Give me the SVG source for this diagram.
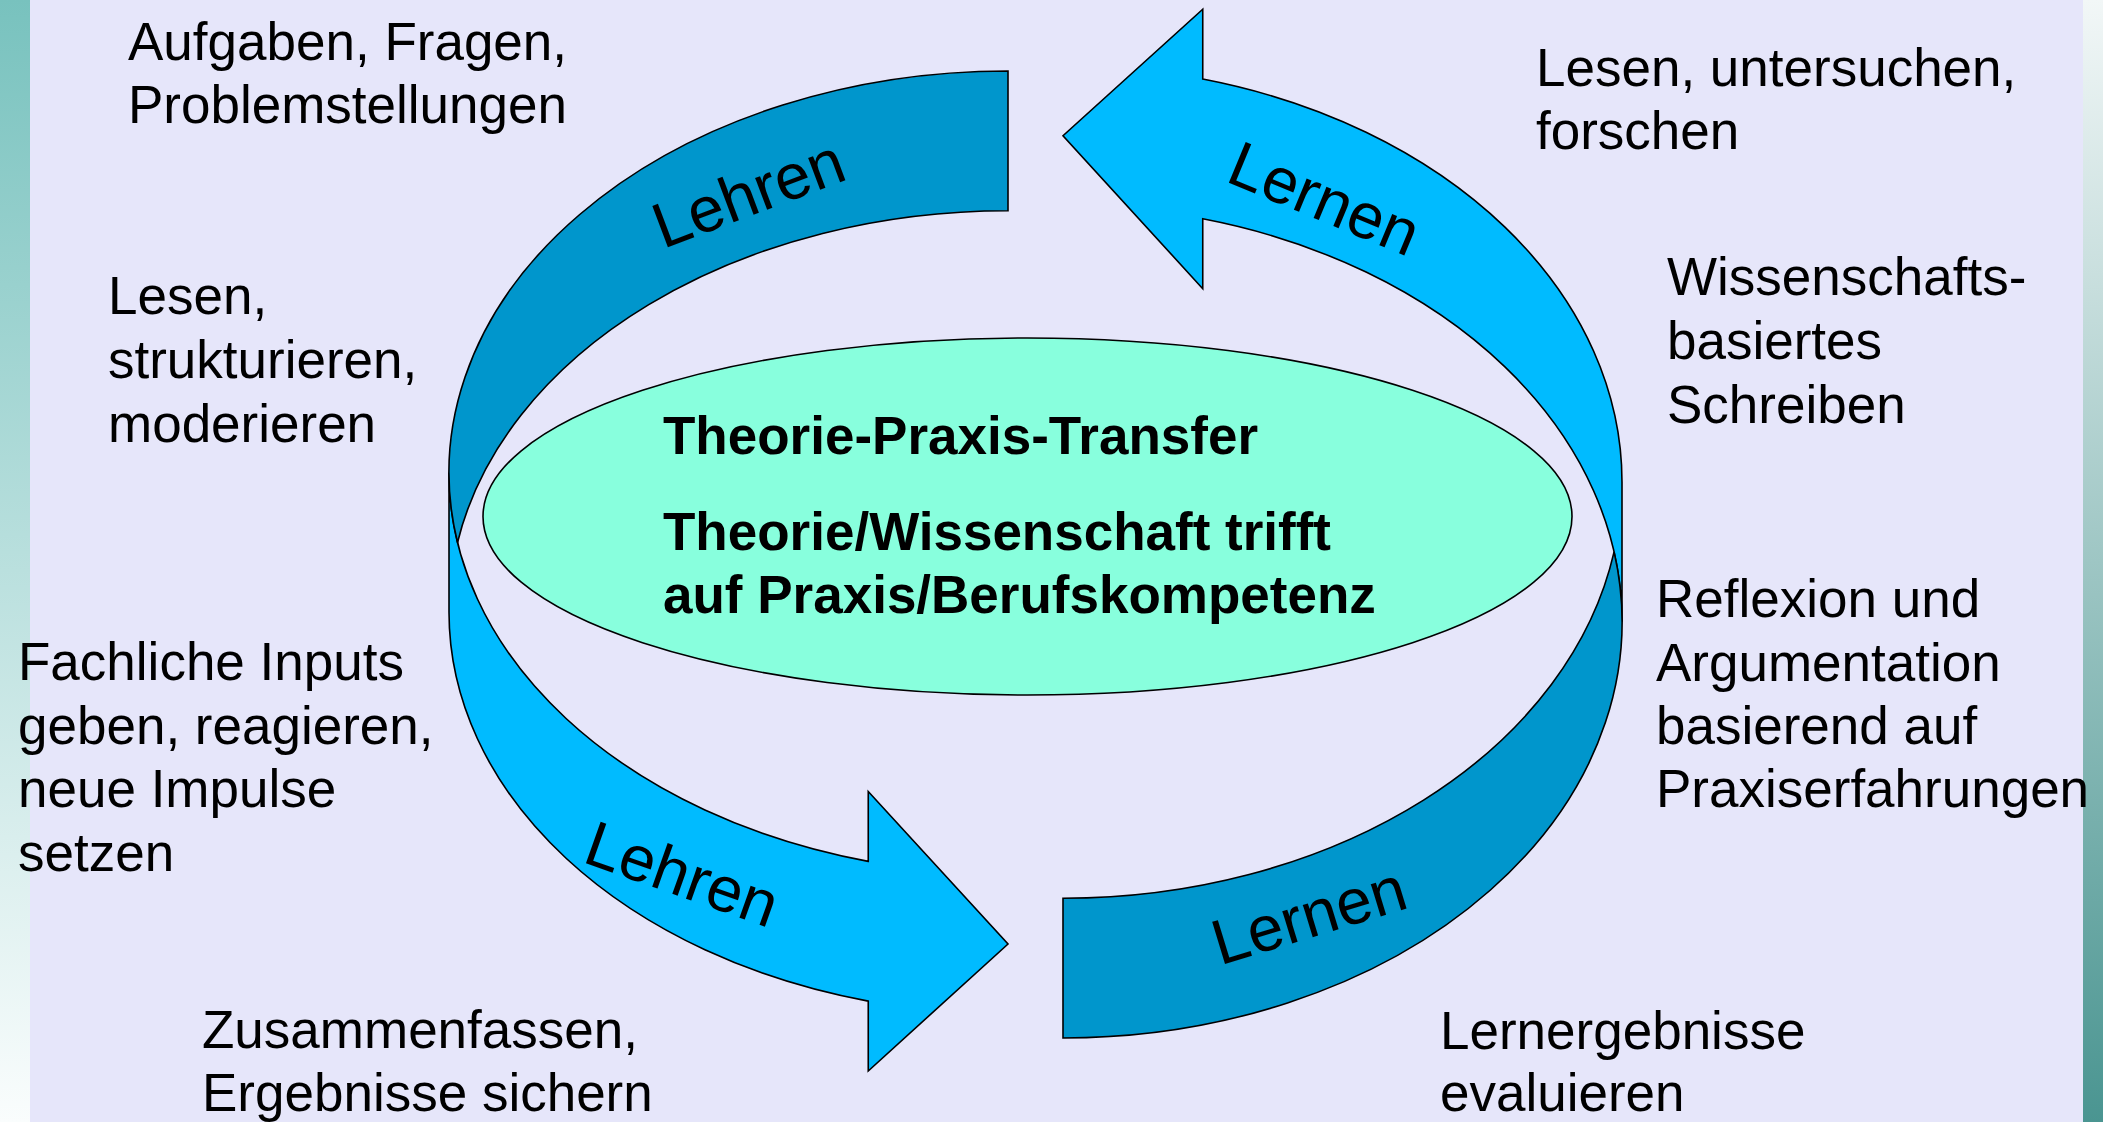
<svg xmlns="http://www.w3.org/2000/svg" width="2103" height="1122" viewBox="0 0 2103 1122">
<defs>
<linearGradient id="gl" x1="0" y1="0" x2="0" y2="1">
<stop offset="0" stop-color="#78C2BE"/>
<stop offset="1" stop-color="#FAFDFD"/>
</linearGradient>
<linearGradient id="gr" x1="0" y1="0" x2="0" y2="1">
<stop offset="0" stop-color="#F2F7F7"/>
<stop offset="1" stop-color="#4A9591"/>
</linearGradient>
<style>
.lbl{font-family:"Liberation Sans",Arial,sans-serif;font-size:53px;fill:#000}
.bold{font-family:"Liberation Sans",Arial,sans-serif;font-size:53px;font-weight:bold;fill:#000}
.arr{font-family:"Liberation Sans",Arial,sans-serif;font-size:64px;fill:#000}
.light{fill:#00BBFF;stroke:#000;stroke-width:1.6;stroke-linejoin:miter}
.dark{fill:#0096CC;stroke:#000;stroke-width:1.6;stroke-linejoin:miter}
</style>
</defs>
<g id="background">
<rect x="0" y="0" width="2103" height="1122" fill="#E6E6FA"/>
<rect x="0" y="0" width="30" height="1122" fill="url(#gl)"/>
<rect x="2083" y="0" width="20" height="1122" fill="url(#gr)"/>
</g>
<g id="node-center">
<ellipse cx="1027.5" cy="516.5" rx="544.5" ry="178.5" fill="#88FFDD" stroke="#000" stroke-width="1.6"/>
<text class="bold" x="663" y="454">Theorie-Praxis-Transfer</text>
<text class="bold" x="663" y="550">Theorie/Wissenschaft trifft</text>
<text class="bold" x="663" y="613">auf Praxis/Berufskompetenz</text>
</g>
<g id="connectors">
<g id="arrow-lehren">
<path class="light" d="M449,472.56 A559,401.56 0 0 0 868.25,861.37 L868.25,791.5 L1008,944 L868.25,1070.99 L868.25,1001.12 A559,401.56 0 0 1 449,612.31 Z"/>
<path class="dark" d="M1008,210.75 A559,401.56 0 0 0 457.53,542.44 A559,401.56 0 0 1 1008,71 Z"/>
<text class="arr" transform="translate(663,249) rotate(-20.7)">Lehren</text>
<text class="arr" transform="translate(581,861.6) rotate(19.5)">Lehren</text>
</g>
<g id="arrow-lernen">
<path class="light" d="M1622,621.81 A559,416.19 0 0 0 1202.75,218.83 L1202.75,288.7 L1063,135.75 L1202.75,9.2 L1202.75,79.08 A559,416.19 0 0 1 1622,482.06 Z"/>
<path class="dark" d="M1063,898.25 A559,416.19 0 0 0 1614.07,551.93 A559,416.19 0 0 1 1063,1038 Z"/>
<text class="arr" transform="translate(1224,180.8) rotate(22.5)">Lernen</text>
<text class="arr" transform="translate(1220,965.5) rotate(-17)">Lernen</text>
</g>
</g>
<g id="node-aufgaben">
<text class="lbl" x="128" y="59.5">Aufgaben, Fragen,</text>
<text class="lbl" x="128" y="123">Problemstellungen</text>
</g>
<g id="node-lesen-links">
<text class="lbl" x="108" y="314">Lesen,</text>
<text class="lbl" x="108" y="378">strukturieren,</text>
<text class="lbl" x="108" y="442">moderieren</text>
</g>
<g id="node-fachliche">
<text class="lbl" x="18" y="680">Fachliche Inputs</text>
<text class="lbl" x="18" y="744">geben, reagieren,</text>
<text class="lbl" x="18" y="807">neue Impulse</text>
<text class="lbl" x="18" y="871">setzen</text>
</g>
<g id="node-zusammenfassen">
<text class="lbl" x="202" y="1047.5">Zusammenfassen,</text>
<text class="lbl" x="202" y="1111">Ergebnisse sichern</text>
</g>
<g id="node-lesen-rechts">
<text class="lbl" x="1536" y="86">Lesen, untersuchen,</text>
<text class="lbl" x="1536" y="149">forschen</text>
</g>
<g id="node-wissenschafts">
<text class="lbl" x="1667" y="295">Wissenschafts-</text>
<text class="lbl" x="1667" y="359">basiertes</text>
<text class="lbl" x="1667" y="422.5">Schreiben</text>
</g>
<g id="node-reflexion">
<text class="lbl" x="1656" y="617">Reflexion und</text>
<text class="lbl" x="1656" y="681">Argumentation</text>
<text class="lbl" x="1656" y="744">basierend auf</text>
<text class="lbl" x="1656" y="807">Praxiserfahrungen</text>
</g>
<g id="node-lernergebnisse">
<text class="lbl" x="1440" y="1049">Lernergebnisse</text>
<text class="lbl" x="1440" y="1111">evaluieren</text>
</g>
</svg>
